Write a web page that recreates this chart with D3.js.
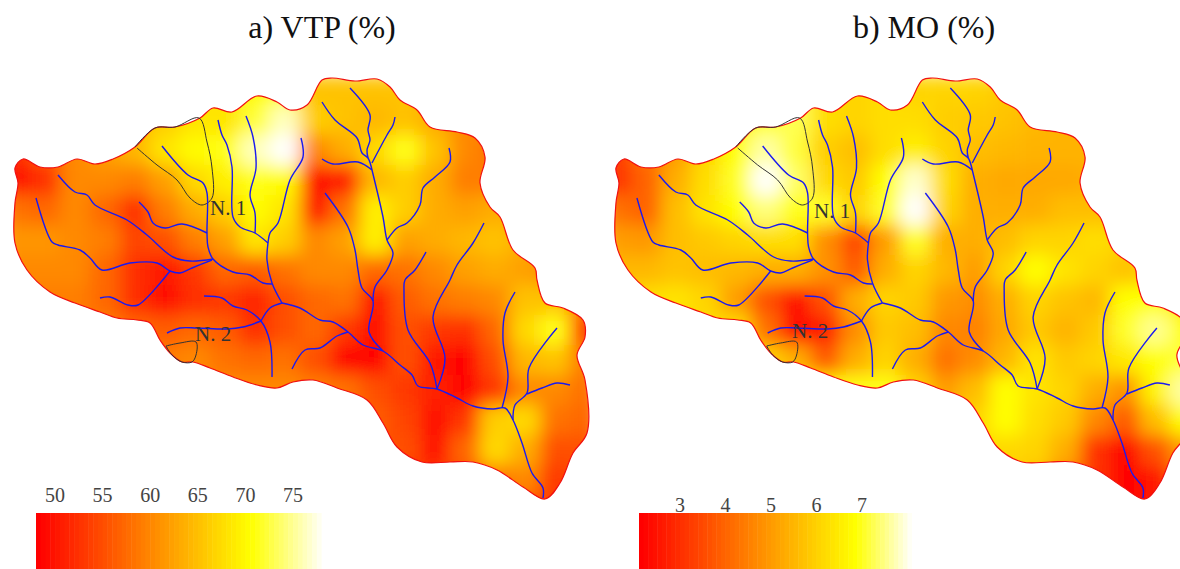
<!DOCTYPE html>
<html>
<head>
<meta charset="utf-8">
<script src="https://cdn.jsdelivr.net/npm/d3@7"></script>
<style>
  html, body { margin: 0; padding: 0; background: #fff; }
  svg { display: block; }
  text { font-family: "Liberation Serif", serif; }
</style>
</head>
<body>
<div id="chart"></div>
<script>
// Data: everything in map units
const gridX = [15,45,75,105,135,165,195,225,255,285,315,345,375,405,435,465,495,525,555,585];
const gridY = [90,120,150,180,210,240,270,300,330,360,390,420,450,480,510];

const vtpGrid = [
  [60,60,62,64,66,68,68,68,70,70,65,65,65,65,64,62,62,62,62,62],
  [55,58,60,62,64,66,68,68,72,76,66,65,64,65,63,60,60,60,60,60],
  [52,56,60,62,64,68,70,71,76,78,60,63,67,71,65,60,58,60,60,60],
  [49,52,60,60,59,62,67,69,71,70,49,50,64,66,63,59,59,60,60,60],
  [58,57,60,57,52,59,63,66,70,68,50,58,69,66,63,62,63,63,62,62],
  [61,61,60,59,54,55,59,62,68,66,60,62,69,62,63,64,65,63,62,60],
  [60,60,60,57,52,50,53,57,56,58,60,60,57,58,60,62,63,62,60,58],
  [59,59,59,57,52,49.5,52,53,51,55,57,58,49,56,58,59,60,65,65,59],
  [59,59,59,59,57,56,57,56,52,55,57,53,49,55,53,52,57,67,71,52],
  [59,59,59,59,59,59,60,58,57,58,55,48.5,48.5,55,50,48,55,64,65,59],
  [60,60,60,60,60,60,60,60,60,60,59,58,55,53,51,48,53,60,60,58],
  [58,58,58,58,58,58,58,58,58,58,58,58,56,54,49,53,66,67,58,57],
  [55,55,55,55,55,55,55,55,55,55,55,55,55,55,49.5,57,67,63,55,55],
  [54,54,54,54,54,54,54,54,54,54,54,54,54,53,53,55,58,60,53,55],
  [54,54,54,54,54,54,54,54,54,54,54,54,54,53,53,55,56,54,53,55]
];

const moGrid = [
  [6,6,6,6.5,7,7,7.2,6.2,6,6.2,6,6,6,5.8,5.7,5.6,5.6,5.6,5.6,5.6],
  [4,5,5.5,6,6.5,7,7.2,6.2,6,6.2,6.2,5.9,5.8,5.7,5.5,5.4,5.4,5.4,5.4,5.4],
  [3.2,4.2,5,6,6.8,7.6,7.1,5.9,5.6,6.2,6.5,6,5.6,5.5,5.4,5.4,5.4,5.4,5.4,5.4],
  [3,3.9,5.3,6.2,7,8.2,7.3,6.1,5.8,6.8,7.8,6.2,5.3,5.2,5.2,5.2,5.3,5.4,5.4,5.4],
  [4.2,3.9,5.6,6.3,6.8,7.4,6.9,7,6,7,8.3,6,5.3,5.3,5.3,5.6,5.6,5.6,5.6,5.6],
  [5,4.9,5.6,5.8,6,6.2,6.2,4.7,3.4,5,7,5.3,5.3,5.6,6,6,6.2,6,6,6],
  [5.5,5.5,5.7,5.6,5.5,5.3,5.3,4.8,3.8,5.3,6,5.5,5,6,6.8,6.3,6,5.7,6,6],
  [6,6.2,6.3,6,5,3.6,2.3,3.6,5.3,6,5.8,4.9,4.7,5.3,6,5.7,5.5,6.8,6.8,6.2],
  [6.2,6.2,6.2,6.2,6.2,4.2,2.1,2.6,4.7,5.8,5.6,4.6,4.5,5.2,5.8,5.4,5.8,7,7.5,6.8],
  [6,6,6,6,6,6,5.3,3.8,5.3,6,5.3,4.2,4.7,5.5,6.3,5.8,6,6.4,6.8,7.1],
  [6.7,6.7,6.7,6.7,6.7,6.7,6.7,6.7,6.9,6.9,6,5,5.6,6.8,6.3,6,5.3,4.8,6.6,7.6],
  [6,6,6,6,6,6,6,6,6,6,6,6,6,6.8,6.2,5.8,4.6,3.8,5.6,6.8],
  [6,6,6,6,6,6,6,6,6,6,6,6,6,6.1,6,5.3,3,2.1,3.6,5],
  [5.8,5.8,5.8,5.8,5.8,5.8,5.8,5.8,5.8,5.8,5.8,5.8,5.8,5.8,5.6,4.5,3,2.1,2.5,4],
  [5.8,5.8,5.8,5.8,5.8,5.8,5.8,5.8,5.8,5.8,5.8,5.8,5.8,5.8,5.6,4.5,3,2.1,2.5,4]
];

const outline = [
  [15,168],[23,159],[40,167],[58,167],[77,159],[95,164],[113,159],[135,147],[155,128],[175,127],
  [200,118],[213,108],[232,112],[257,96],[277,102],[290,110],[307,105],[322,80],[332,78],[355,81],
  [377,79],[390,87],[400,100],[417,110],[430,127],[457,132],[475,138],[485,157],[480,183],[490,207],
  [500,217],[513,250],[535,268],[537,280],[545,303],[563,308],[583,320],[585,337],[577,355],[585,380],
  [587,433],[573,453],[560,483],[545,499],[523,487],[497,470],[473,462],[450,462],[422,462],[397,447],
  [383,423],[367,400],[337,388],[313,380],[293,382],[277,388],[257,385],[233,377],[210,368],[193,362],
  [182,362],[170,353],[160,340],[150,323],[137,320],[117,318],[100,312],[75,303],[50,292],[27,270],
  [15,243],[15,203],[18,183]
];

const subbasins = [
  [[135,147],[155,128],[175,127],[199,118],[207,142],[212,168],[212,198],[202,205],[190,198],[177,180],[157,165],[137,148]],
  [[166,346],[180,343],[196,342],[196,355],[192,362],[182,362],[172,355],[166,346]]
];

const streams = [
  [[58,175],[75,192],[87,195],[95,205],[127,220],[147,235],[173,257],[190,261],[213,259]],
  [[36,198],[52,242],[58,245],[80,250],[90,258],[102,270],[130,263],[157,263],[170,271],[180,273],[192,268],[212,260]],
  [[100,298],[110,297],[128,305],[138,305],[170,271]],
  [[139,202],[148,212],[153,223],[165,228],[182,224],[207,233]],
  [[162,146],[188,175],[203,183],[207,193],[207,233],[208,247],[213,259],[233,272],[250,275],[263,283],[272,284]],
  [[218,120],[222,135],[227,145],[232,167],[233,217],[240,227],[255,233],[268,243]],
  [[246,116],[253,137],[256,168],[250,195],[255,213],[255,233]],
  [[301,138],[303,157],[290,180],[278,223],[270,233],[268,243],[267,260],[272,283],[282,303]],
  [[282,303],[300,308],[320,320],[333,322],[348,332],[363,345],[383,351],[400,365],[412,375],[418,386],[437,389],[457,398],[473,406],[493,409],[505,408],[513,420],[522,443],[532,473],[543,488],[543,498]],
  [[282,303],[270,308],[261,321]],
  [[204,296],[222,298],[233,306],[247,310],[261,321],[270,342],[272,377]],
  [[167,333],[180,328],[197,328],[227,329],[243,327],[261,321]],
  [[292,369],[305,350],[320,348],[337,336],[348,332]],
  [[325,193],[348,227],[355,250],[358,270],[362,288],[373,301],[369,332],[383,351]],
  [[372,170],[383,217],[387,240],[393,253],[387,270],[375,287],[373,301]],
  [[322,102],[335,120],[357,138],[362,153],[368,158],[372,170]],
  [[350,88],[370,115],[368,130],[370,140],[367,150],[368,158]],
  [[395,117],[393,125],[387,135],[372,163]],
  [[322,159],[333,164],[358,162],[372,170]],
  [[449,148],[450,162],[435,177],[423,188],[420,205],[407,223],[397,228],[387,240]],
  [[484,223],[473,243],[457,265],[450,280],[433,317],[445,358],[437,389]],
  [[426,252],[415,270],[405,280],[404,290],[408,330],[430,363],[437,389]],
  [[515,292],[505,313],[503,340],[508,377],[502,408]],
  [[557,328],[529,368],[527,393],[515,405],[513,420]],
  [[570,385],[557,383],[542,388],[527,394]]
];

const vtpTicks = [50,55,60,65,70,75];
const moTicks = [3,4,5,6,7];

const panels = [
  { title: "a) VTP (%)", titleX: 322, grid: vtpGrid, ticks: vtpTicks, colorStops: [48,70.3,78], x0: 0, xk: 1,
    legendX: [55,293], legendValues: [50,75], barStart: 36, barEnd: 325, tickY: 502, step: 0.5, labels: [[210,215],[195,341]] },
  { title: "b) MO (%)", titleX: 924, grid: moGrid, ticks: moTicks, colorStops: [2.1,6.8,8.05], x0: 601, xk: 0.998,
    legendX: [680,862], legendValues: [3,7], barStart: 639, barEnd: 915, tickY: 512, step: 0.1, labels: [[814,218],[792,338]] }
];

const width = 1180, height = 569;

const svg = d3.select("#chart")
  .append("svg")
  .attr("width", width)
  .attr("height", height);

const defs = svg.append("defs");
defs.append("filter")
  .attr("id", "soft")
  .attr("x", "-5%").attr("y", "-5%").attr("width", "110%").attr("height", "110%")
  .append("feGaussianBlur")
  .attr("stdDeviation", 9);

panels.forEach((p, idx) => {
  const x = d3.scaleLinear().domain([0, 600]).range([p.x0, p.x0 + 600 * p.xk]);
  const y = d3.scaleLinear().domain([0, 569]).range([0, 569]);
  const color = d3.scaleLinear()
    .domain(p.colorStops)
    .range(["#ff0000", "#ffff00", "#ffffff"])
    .clamp(true);

  const line = d3.line().x(d => x(d[0])).y(d => y(d[1])).curve(d3.curveCatmullRom);
  const ring = d3.line().x(d => x(d[0])).y(d => y(d[1])).curve(d3.curveCatmullRomClosed);

  defs.append("clipPath")
    .attr("id", "basin-" + idx)
    .append("path")
    .attr("d", ring(outline));

  // Raster of the variable, softened and cut to the basin
  const cellW = x(gridX[1]) - x(gridX[0]);
  const cellH = y(gridY[1]) - y(gridY[0]);
  const raster = svg.append("g")
    .attr("clip-path", `url(#basin-${idx})`)
    .append("g")
    .attr("filter", "url(#soft)");

  raster.selectAll("g")
    .data(p.grid)
    .enter()
    .append("g")
    .each(function (row, r) {
      d3.select(this).selectAll("rect")
        .data(row)
        .enter()
        .append("rect")
        .attr("x", (d, c) => x(gridX[c]) - cellW / 2)
        .attr("y", y(gridY[r]) - cellH / 2)
        .attr("width", cellW + 0.5)
        .attr("height", cellH + 0.5)
        .attr("fill", d => color(d));
    });

  // Basin edge
  svg.append("path")
    .attr("d", ring(outline))
    .attr("fill", "none")
    .attr("stroke", "#f01010")
    .attr("stroke-width", 1.2);

  // Sub-basins N.1 and N.2
  svg.append("g").selectAll("path")
    .data(subbasins)
    .enter()
    .append("path")
    .attr("d", line)
    .attr("fill", "none")
    .attr("stroke", "#333")
    .attr("stroke-width", 1);

  // Stream network
  svg.append("g").selectAll("path")
    .data(streams)
    .enter()
    .append("path")
    .attr("d", line)
    .attr("fill", "none")
    .attr("stroke", "#1a1af0")
    .attr("stroke-width", 1.4);

  // Titles and labels
  svg.append("text")
    .attr("x", p.titleX)
    .attr("y", 38)
    .attr("text-anchor", "middle")
    .attr("font-size", 32)
    .attr("fill", "#111")
    .text(p.title);

  svg.selectAll(null)
    .data(["N. 1", "N. 2"])
    .enter()
    .append("text")
    .attr("x", (d, i) => p.labels[i][0])
    .attr("y", (d, i) => p.labels[i][1])
    .attr("font-size", 21)
    .attr("fill", "#333")
    .text(d => d);

  // Colour bar
  const lx = d3.scaleLinear().domain(p.legendValues).range(p.legendX);
  const bins = d3.range(lx.invert(p.barStart), lx.invert(p.barEnd), p.step);
  svg.append("g").selectAll("rect")
    .data(bins)
    .enter()
    .append("rect")
    .attr("x", d => lx(d))
    .attr("y", 513)
    .attr("width", lx(p.step) - lx(0) + 0.5)
    .attr("height", 56)
    .attr("fill", d => color(d));

  svg.append("g").selectAll("text")
    .data(p.ticks)
    .enter()
    .append("text")
    .attr("x", d => lx(d))
    .attr("y", p.tickY)
    .attr("text-anchor", "middle")
    .attr("font-size", 20)
    .attr("fill", "#444")
    .text(d => d);
});
</script>
</body>
</html>
